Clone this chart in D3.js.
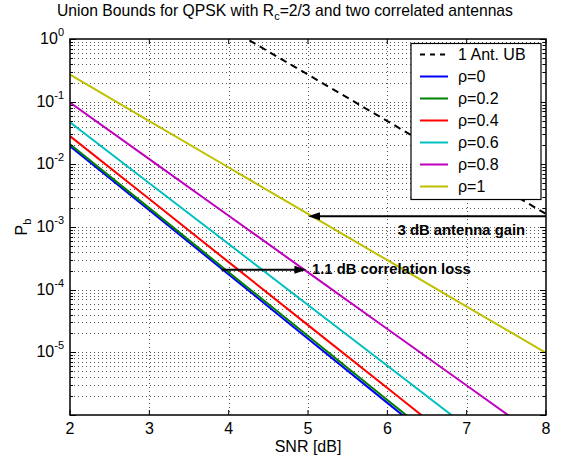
<!DOCTYPE html>
<html>
<head>
<meta charset="utf-8">
<script src="https://cdn.jsdelivr.net/npm/d3@7"></script>
<style>
  body { margin: 0; background: #fff; }
  svg { display: block; font-family: "Liberation Sans", Arial, sans-serif; }
</style>
</head>
<body>
<div id="chart"></div>
<script>
// values (Pb vs SNR in dB)
const snr = [2, 3, 4, 5, 6, 7, 8];
const snrOneAnt = [4, 5, 6, 7, 8];
const oneAntUB = [1.48, 0.27, 4.9e-2, 8.9e-3, 1.62e-3];
const rho0 = [1.95e-2, 1.85e-3, 1.75e-4, 1.65e-5, 1.56e-6, 1.48e-7, 1.4e-8];
const rho02 = [2.09e-2, 2.0e-3, 1.9e-4, 1.82e-5, 1.74e-6, 1.66e-7, 1.58e-8];
const rho04 = [2.82e-2, 2.79e-3, 2.75e-4, 2.72e-5, 2.69e-6, 2.66e-7, 2.63e-8];
const rho06 = [4.68e-2, 5.0e-3, 5.35e-4, 5.7e-5, 6.1e-6, 6.5e-7, 7.0e-8];
const rho08 = [9.7e-2, 1.21e-2, 1.51e-3, 1.89e-4, 2.36e-5, 2.95e-6, 3.69e-7];
const rho1 = [0.27, 4.9e-2, 8.9e-3, 1.62e-3, 2.95e-4, 5.37e-5, 9.8e-6];

const seriesLabels = ['1 Ant. UB', 'ρ=0', 'ρ=0.2', 'ρ=0.4', 'ρ=0.6', 'ρ=0.8', 'ρ=1'];
const xTicks = [2, 3, 4, 5, 6, 7, 8];
const yExponents = [0, -1, -2, -3, -4, -5];

const arrowNotes = [
  { x1: 8, x2: 5, y: 1.48e-3, text: '3 dB antenna gain', tx: 6.13, ty: 7.5e-4 },
  { x1: 3.91, x2: 4.98, y: 2.07e-4, text: '1.1 dB correlation loss', tx: 5.05, ty: 1.79e-4 }
];

const width = 570;
const height = 462;
const margin = { left: 70, right: 24, top: 39, bottom: 47 };

const svg = d3.select('#chart').append('svg').attr('width', width).attr('height', height);

const x = d3.scaleLinear().domain([2, 8]).range([margin.left, width - margin.right]);
const y = d3.scaleLog().domain([1e-6, 1]).range([height - margin.bottom, margin.top]);

const x0 = x.range()[0], x1 = x.range()[1];
const y0 = y.range()[0], y1 = y.range()[1];

svg.append('defs').append('clipPath').attr('id', 'plot')
  .append('rect').attr('x', x0).attr('y', y1).attr('width', x1 - x0).attr('height', y0 - y1);

// grid
const minorVals = [];
for (let e = -6; e < 0; e++) {
  for (let m = 1; m <= 9; m++) minorVals.push(m * Math.pow(10, e));
}
const grid = svg.append('g').attr('stroke', '#555').attr('stroke-width', 1).attr('stroke-dasharray', '1,3');
grid.selectAll('.gy').data(minorVals.filter(v => v > 1e-6)).enter().append('line')
  .attr('x1', x0).attr('x2', x1).attr('y1', d => Math.round(y(d)) + 0.5).attr('y2', d => Math.round(y(d)) + 0.5);
grid.selectAll('.gx').data(xTicks.slice(1, -1)).enter().append('line')
  .attr('y1', y1).attr('y2', y0).attr('x1', d => Math.round(x(d)) + 0.5).attr('x2', d => Math.round(x(d)) + 0.5);

// curves
const line = d3.line().x(d => x(d[0])).y(d => y(d[1]));
const series = [
  { xs: snrOneAnt, ys: oneAntUB, color: '#000000', dash: '7,5' },
  { xs: snr, ys: rho0, color: '#0000ff' },
  { xs: snr, ys: rho02, color: '#008000' },
  { xs: snr, ys: rho04, color: '#ff0000' },
  { xs: snr, ys: rho06, color: '#00bfbf' },
  { xs: snr, ys: rho08, color: '#bf00bf' },
  { xs: snr, ys: rho1, color: '#bfbf00' }
];
const curves = svg.append('g').attr('clip-path', 'url(#plot)');
curves.selectAll('path').data(series).enter().append('path')
  .attr('d', s => line(s.xs.map((v, i) => [v, s.ys[i]])))
  .attr('fill', 'none')
  .attr('stroke', s => s.color)
  .attr('stroke-width', 2)
  .attr('stroke-dasharray', s => s.dash || null);

// ticks
const ticks = svg.append('g').attr('stroke', '#000').attr('stroke-width', 1);
xTicks.forEach(t => {
  ticks.append('line').attr('x1', x(t)).attr('x2', x(t)).attr('y1', y0).attr('y2', y0 - 5);
  ticks.append('line').attr('x1', x(t)).attr('x2', x(t)).attr('y1', y1).attr('y2', y1 + 5);
});
minorVals.concat([1]).forEach(v => {
  const major = Math.abs(Math.log10(v) - Math.round(Math.log10(v))) < 1e-9;
  const len = major ? 6 : 3;
  const py = Math.round(y(v)) + 0.5;
  ticks.append('line').attr('x1', x0).attr('x2', x0 + len).attr('y1', py).attr('y2', py);
  ticks.append('line').attr('x1', x1).attr('x2', x1 - len).attr('y1', py).attr('y2', py);
});

// frame
svg.append('rect').attr('x', x0).attr('y', y1).attr('width', x1 - x0).attr('height', y0 - y1)
  .attr('fill', 'none').attr('stroke', '#000').attr('stroke-width', 1.5);

// tick labels
svg.append('g').selectAll('text').data(xTicks).enter().append('text')
  .attr('x', d => x(d)).attr('y', y0 + 19).attr('text-anchor', 'middle')
  .attr('font-size', 16).text(d => d);

const yl = svg.append('g').selectAll('text').data(yExponents).enter().append('text')
  .attr('x', x0 - 6).attr('y', d => y(Math.pow(10, d)) + 5).attr('text-anchor', 'end').attr('font-size', 16);
yl.append('tspan').text('10');
yl.append('tspan').attr('dy', -8).attr('font-size', 11).text(d => d === 0 ? '0' : '-' + (-d));

// axis labels and title
svg.append('text').attr('x', (x0 + x1) / 2).attr('y', 452).attr('text-anchor', 'middle')
  .attr('font-size', 16).text('SNR [dB]');

const ylab = svg.append('text').attr('transform', `translate(27, ${(y0 + y1) / 2}) rotate(-90)`)
  .attr('text-anchor', 'middle').attr('font-size', 16);
ylab.append('tspan').text('P');
ylab.append('tspan').attr('dy', 4).attr('font-size', 11).text('b');

const title = svg.append('text').attr('x', 57).attr('y', 16).attr('font-size', 15.7);
title.append('tspan').text('Union Bounds for QPSK with R');
title.append('tspan').attr('dy', 4).attr('font-size', 11).text('c');
title.append('tspan').attr('dy', -4).text('=2/3 and two correlated antennas');

// arrows and notes
const notes = svg.append('g');
arrowNotes.forEach(a => {
  const px1 = x(a.x1), px2 = x(a.x2), py = y(a.y);
  const dir = Math.sign(px2 - px1);
  notes.append('line').attr('x1', px1).attr('x2', px2 - dir * 10).attr('y1', py).attr('y2', py)
    .attr('stroke', '#000').attr('stroke-width', 2);
  notes.append('path')
    .attr('d', `M${px2},${py} L${px2 - dir * 12},${py - 4} L${px2 - dir * 12},${py + 4} Z`)
    .attr('fill', '#000');
  notes.append('text').attr('x', x(a.tx)).attr('y', y(a.ty))
    .attr('font-size', 14.8).attr('font-weight', 'bold').text(a.text);
});

// legend
const lg = svg.append('g').attr('transform', 'translate(411, 43.5)');
lg.append('rect').attr('width', 130).attr('height', 156).attr('fill', '#fff')
  .attr('stroke', '#000').attr('stroke-width', 1.2);
const rows = lg.selectAll('.row').data(series).enter().append('g')
  .attr('transform', (d, i) => `translate(0, ${11 + i * 22})`);
rows.append('line').attr('x1', 9).attr('x2', 37).attr('y1', 0).attr('y2', 0)
  .attr('stroke', d => d.color).attr('stroke-width', 2)
  .attr('stroke-dasharray', d => d.dash ? '5,5' : null);
rows.append('text').attr('x', 47).attr('y', 5.5).attr('font-size', 16)
  .text((d, i) => seriesLabels[i]);
</script>
</body>
</html>
